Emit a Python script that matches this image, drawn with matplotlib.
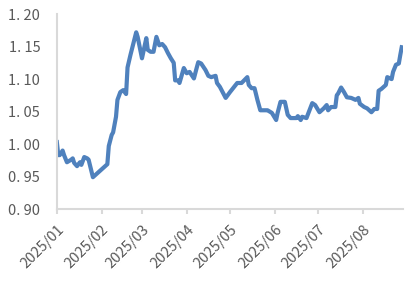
import matplotlib
matplotlib.use("Agg")
import matplotlib.pyplot as plt
import pandas as pd

plt.rcParams['font.family'] = ['Noto Sans CJK SC', 'DejaVu Sans']

dates = [
    "2025-01-01", "2025-01-02", "2025-01-03", "2025-01-05", "2025-01-06", "2025-01-08",
    "2025-01-11", "2025-01-12", "2025-01-13", "2025-01-15", "2025-01-17", "2025-01-18",
    "2025-01-20", "2025-01-22", "2025-01-23", "2025-01-26", "2025-02-05", "2025-02-06",
    "2025-02-08", "2025-02-09", "2025-02-11", "2025-02-12", "2025-02-14", "2025-02-16",
    "2025-02-18", "2025-02-19", "2025-02-21", "2025-02-25", "2025-02-26", "2025-03-01",
    "2025-03-04", "2025-03-05", "2025-03-07", "2025-03-09", "2025-03-11", "2025-03-13",
    "2025-03-15", "2025-03-17", "2025-03-19", "2025-03-21", "2025-03-23", "2025-03-24",
    "2025-03-26", "2025-03-27", "2025-03-30", "2025-04-01", "2025-04-03", "2025-04-06",
    "2025-04-08", "2025-04-09", "2025-04-11", "2025-04-14", "2025-04-16", "2025-04-18",
    "2025-04-21", "2025-04-22", "2025-04-24", "2025-04-28", "2025-05-01", "2025-05-06",
    "2025-05-09", "2025-05-13", "2025-05-14", "2025-05-16", "2025-05-18", "2025-05-20",
    "2025-05-22", "2025-05-26", "2025-05-27", "2025-05-30", "2025-06-02", "2025-06-03",
    "2025-06-05", "2025-06-08", "2025-06-10", "2025-06-12", "2025-06-16", "2025-06-17",
    "2025-06-19", "2025-06-20", "2025-06-23", "2025-06-27", "2025-06-29", "2025-07-02",
    "2025-07-05", "2025-07-07", "2025-07-08", "2025-07-10", "2025-07-13", "2025-07-14",
    "2025-07-15", "2025-07-17", "2025-07-19", "2025-07-21", "2025-07-24", "2025-07-27",
    "2025-07-29", "2025-07-30", "2025-08-02", "2025-08-04", "2025-08-07", "2025-08-09",
    "2025-08-11", "2025-08-12", "2025-08-14", "2025-08-17", "2025-08-18", "2025-08-21",
    "2025-08-22", "2025-08-24", "2025-08-26", "2025-08-27", "2025-08-28",
]
values = [
    1.003, 0.983, 0.983, 0.990, 0.983, 0.972,
    0.976, 0.978, 0.971, 0.966, 0.972, 0.968,
    0.980, 0.978, 0.976, 0.949, 0.969, 0.997,
    1.014, 1.018, 1.042, 1.068, 1.080, 1.083,
    1.077, 1.118, 1.137, 1.172, 1.165, 1.132,
    1.163, 1.145, 1.142, 1.142, 1.165, 1.152,
    1.154, 1.149, 1.140, 1.132, 1.125, 1.098,
    1.098, 1.094, 1.117, 1.109, 1.111, 1.101,
    1.118, 1.126, 1.124, 1.114, 1.105, 1.103,
    1.105, 1.094, 1.088, 1.071, 1.080, 1.094,
    1.094, 1.103, 1.091, 1.086, 1.086, 1.068,
    1.052, 1.052, 1.052, 1.048, 1.037, 1.048,
    1.065, 1.065, 1.045, 1.040, 1.040, 1.043,
    1.037, 1.042, 1.040, 1.063, 1.060, 1.049,
    1.055, 1.060, 1.052, 1.057, 1.057, 1.075,
    1.078, 1.087, 1.080, 1.072, 1.071, 1.068,
    1.071, 1.062, 1.057, 1.055, 1.049, 1.054,
    1.054, 1.082, 1.085, 1.091, 1.103, 1.100,
    1.111, 1.122, 1.124, 1.137, 1.149,
]
month_ticks = ["2025-01-01", "2025-02-01", "2025-03-01", "2025-04-01",
               "2025-05-01", "2025-06-01", "2025-07-01", "2025-08-01"]
month_labels = ["2025/01", "2025/02", "2025/03", "2025/04",
                "2025/05", "2025/06", "2025/07", "2025/08"]
y_ticks = [0.90, 0.95, 1.00, 1.05, 1.10, 1.15, 1.20]
y_labels = ["0. 90", "0. 95", "1. 00", "1. 05", "1. 10", "1. 15", "1. 20"]

x = pd.to_datetime(dates)
fig = plt.figure(figsize=(4.06, 2.94), dpi=100)
ax = fig.add_axes([0.140, 0.289, 0.853, 0.663])
ax.plot(x, values, color="#4F81BD", lw=3.0, solid_joinstyle="round")

ax.set_ylim(0.90, 1.20)
ax.set_xlim(pd.Timestamp("2025-01-01"), pd.Timestamp("2025-08-29"))
ax.set_yticks(y_ticks)
ax.set_yticklabels(y_labels, fontsize=10.5, color="#595959")
ax.set_xticks(pd.to_datetime(month_ticks))
ax.set_xticklabels(month_labels, fontsize=10.5, color="#595959",
                   rotation=45, ha="right", va="top", rotation_mode="anchor")

for s in ["top", "right"]:
    ax.spines[s].set_visible(False)
for s in ["left", "bottom"]:
    ax.spines[s].set_color("#D9D9D9")
    ax.spines[s].set_linewidth(1.5)
ax.tick_params(axis="y", length=0, pad=12)
ax.tick_params(axis="x", length=3.5, width=1.5, color="#D9D9D9", pad=6)

fig.savefig("out.png", dpi=100, facecolor="white")
